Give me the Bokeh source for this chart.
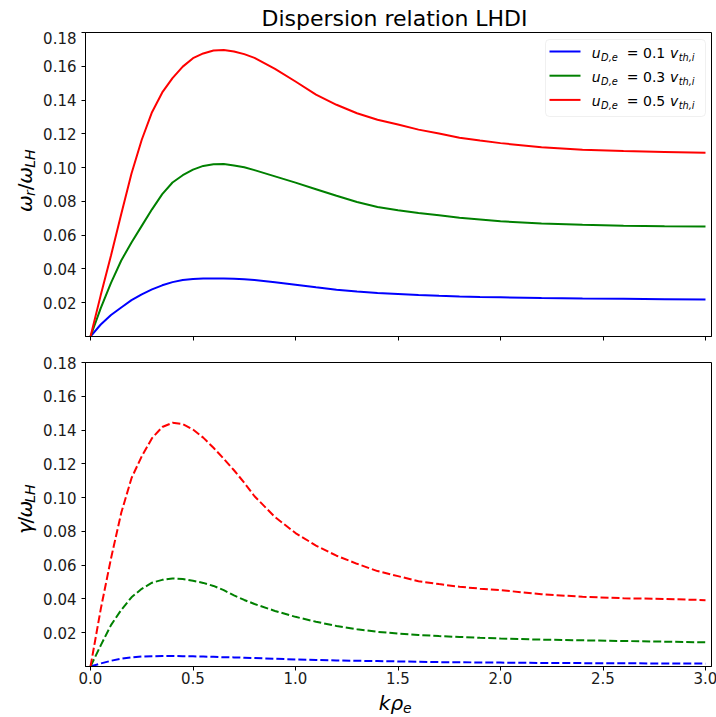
import numpy as np
from bokeh.plotting import figure
from bokeh.models import Label, FixedTicker, BoxAnnotation, Range1d
from bokeh.layouts import column, row
from bokeh.embed import file_html
from bokeh.resources import INLINE

# ---------------- data ----------------
k_rho = [0, 0.05, 0.1, 0.15, 0.2, 0.25, 0.3, 0.35, 0.4, 0.45, 0.5, 0.55, 0.6, 0.65,
         0.7, 0.75, 0.8, 0.9, 1.0, 1.1, 1.2, 1.3, 1.4, 1.5, 1.6, 1.7, 1.8, 1.9,
         2.0, 2.2, 2.4, 2.6, 2.8, 3.0]

omega_r_01 = [0, 0.0071, 0.0127, 0.0172, 0.0215, 0.0250, 0.0279, 0.0303, 0.0322, 0.0334,
              0.0340, 0.0343, 0.0344, 0.0344, 0.0342, 0.0339, 0.0334, 0.0321, 0.0307,
              0.0291, 0.0277, 0.0266, 0.0258, 0.0252, 0.0246, 0.0241, 0.0237, 0.0234,
              0.0232, 0.0228, 0.0225, 0.0223, 0.0221, 0.0219]
omega_r_03 = [0, 0.0168, 0.0318, 0.0450, 0.0557, 0.0655, 0.0753, 0.0843, 0.0912, 0.0955,
              0.0988, 0.1010, 0.1020, 0.1021, 0.1013, 0.1002, 0.0985, 0.0948, 0.0911,
              0.0872, 0.0833, 0.0796, 0.0767, 0.0748, 0.0731, 0.0718, 0.0703, 0.0693,
              0.0682, 0.0669, 0.0661, 0.0656, 0.0653, 0.0651]
omega_r_05 = [0, 0.0245, 0.0480, 0.0725, 0.0965, 0.1165, 0.1328, 0.1445, 0.1530, 0.1598,
              0.1648, 0.1676, 0.1693, 0.1697, 0.1688, 0.1672, 0.1650, 0.1585, 0.1510,
              0.1432, 0.1372, 0.1322, 0.1283, 0.1255, 0.1225, 0.1202, 0.1177, 0.1160,
              0.1145, 0.1120, 0.1106, 0.1098, 0.1093, 0.1088]

gamma_01 = [0, 0.0018, 0.0034, 0.0046, 0.0054, 0.0059, 0.0061, 0.0062, 0.0062, 0.0061,
            0.0060, 0.0059, 0.0057, 0.0055, 0.0054, 0.0052, 0.0050, 0.0046, 0.0042,
            0.0039, 0.0036, 0.0034, 0.0032, 0.0030, 0.0028, 0.0026, 0.0025, 0.0024,
            0.0023, 0.0021, 0.0020, 0.0019, 0.0018, 0.0017]
gamma_03 = [0, 0.0125, 0.0245, 0.0335, 0.0410, 0.0460, 0.0496, 0.0513, 0.0521, 0.0518,
            0.0508, 0.0495, 0.0477, 0.0452, 0.0421, 0.0394, 0.0370, 0.0329, 0.0294,
            0.0265, 0.0240, 0.0221, 0.0205, 0.0195, 0.0187, 0.0180, 0.0175, 0.0170,
            0.0166, 0.0159, 0.0155, 0.0151, 0.0147, 0.0143]
gamma_05 = [0, 0.0340, 0.0640, 0.0910, 0.1115, 0.1245, 0.1352, 0.1418, 0.1443, 0.1435,
            0.1403, 0.1355, 0.1295, 0.1230, 0.1162, 0.1088, 0.1008, 0.0885, 0.0790,
            0.0716, 0.0656, 0.0608, 0.0565, 0.0535, 0.0505, 0.0488, 0.0472, 0.0461,
            0.0452, 0.0428, 0.0413, 0.0404, 0.0400, 0.0393]

drift_labels = ["0.1", "0.3", "0.5"]
series_colors = ["#0000ff", "#008000", "#ff0000"]
omega_series = [omega_r_01, omega_r_03, omega_r_05]
gamma_series = [gamma_01, gamma_03, gamma_05]

y_ticks = [0.02, 0.04, 0.06, 0.08, 0.10, 0.12, 0.14, 0.16, 0.18]
y_tick_labels = ["0.02", "0.04", "0.06", "0.08", "0.10", "0.12", "0.14", "0.16", "0.18"]
x_ticks = [0.0, 0.5, 1.0, 1.5, 2.0, 2.5, 3.0]
x_tick_labels = ["0.0", "0.5", "1.0", "1.5", "2.0", "2.5", "3.0"]
title_text = "Dispersion relation LHDI"

# ---------------- layout constants (page pixels, origin top-left) ----------------
FONT = "DejaVu Sans"
PXU = 205.0                 # px per unit of k rho_e
X0 = -5.0 / PXU
FW, FH = 626, 304
X1 = X0 + FW / PXU
YMAX = 0.18
W = 716
BASE_FIX = 0.3              # Bokeh draws "alphabetic" labels ~0.3 em low

ADV = {'ω': 0.833, 'ρ': 0.635, 'γ': 0.592, 'k': 0.579, 'r': 0.411, 'e': 0.615,
       'L': 0.557, 'H': 0.752, '/': 0.337}


def adv(t, size):
    return sum(ADV.get(c, 0.6) for c in t) * size


def text_fig(width, top, bottom):
    """A blank figure whose frame is its whole canvas; data coords = page px."""
    f = figure(width=width, height=bottom - top, min_border=0,
               x_range=Range1d(0, width), y_range=Range1d(bottom, top),
               x_axis_type=None, y_axis_type=None, title_location=None,
               output_backend="svg", toolbar_location=None,
               background_fill_color="white", border_fill_color="white")
    f.outline_line_color = None
    return f


def make_fig(top_border, bottom_border):
    p = figure(frame_width=FW, frame_height=FH,
               x_range=Range1d(X0, X1), y_range=Range1d(0, YMAX),
               output_backend="svg", toolbar_location=None, title_location=None,
               min_border_left=41, min_border_right=W - 40 - 41 - FW,
               min_border_top=top_border, min_border_bottom=bottom_border,
               background_fill_color="white", border_fill_color="white")
    p.xgrid.visible = False
    p.ygrid.visible = False
    p.outline_line_color = "black"
    p.outline_line_width = 1
    p.outline_line_alpha = 1
    for ax in (p.xaxis[0], p.yaxis[0]):
        ax.axis_line_color = "black"
        ax.major_tick_line_color = "black"
        ax.minor_tick_line_color = None
        ax.major_tick_out = 4
        ax.major_tick_in = 0
        ax.major_label_text_font = FONT
        ax.major_label_text_font_size = "15px"
        ax.major_label_text_color = "#1a1a1a"
    p.yaxis.ticker = FixedTicker(ticks=y_ticks)
    p.yaxis.major_label_overrides = dict(zip(y_ticks, y_tick_labels))
    p.yaxis.major_label_standoff = 5
    p.xaxis.ticker = FixedTicker(ticks=x_ticks)
    p.xaxis.major_label_overrides = dict(zip(x_ticks, x_tick_labels))
    return p


def piece(f, px, py, text, size, italic, vertical=False, align="left"):
    if vertical:
        px -= BASE_FIX * size
    else:
        py -= BASE_FIX * size
    f.add_layout(Label(x=px, y=py, text=text, text_font=FONT,
                       text_font_size=f"{size}px",
                       text_font_style="italic" if italic else "normal",
                       text_color="black", text_align=align,
                       text_baseline="alphabetic",
                       angle=(np.pi / 2 if vertical else 0.0), angle_units="rad"))


def add_run(f, x0, y0, pieces, vertical=False):
    """pieces: (text, size, italic, shift_down_px); coords are page px."""
    s = 0.0
    for text, size, italic, shift in pieces:
        if vertical:
            piece(f, x0 + shift, y0 - s, text, size, italic, vertical=True)
        else:
            piece(f, x0 + s, y0 + shift, text, size, italic)
        s += adv(text, size)


# vertical extents (page px)
T_TOP, T_BOT = 0, 31          # title strip
R1_BOT = 346                  # top row: frame 32..336
R2_BOT = 690                  # bottom row: frame 362..666
X_BOT = 717                   # x-label strip

# ---------------- title strip ----------------
ft = text_fig(W, T_TOP, T_BOT)
piece(ft, 394, 25, title_text, 22, False, align="center")

# ---------------- top panel: omega_r ----------------
p1 = make_fig(1, 10)
p1.xaxis.major_label_overrides = {t: "" for t in x_ticks}
p1.xaxis.major_label_standoff = 0

for ys, c in zip(omega_series, series_colors):
    p1.line(k_rho, ys, line_color=c, line_width=2)


def m1(px, py):
    return (px - 86.0) / PXU, (336.0 - py) / FH * YMAX


# legend (drawn by hand so that the math-like labels stay real text)
lx0, ly0 = m1(541, 39)
lx1, ly1 = m1(701, 116)
p1.add_layout(BoxAnnotation(left=lx0, right=lx1, top=ly0, bottom=ly1,
                            fill_color="white", fill_alpha=0.8,
                            line_color="#cccccc", line_width=1, border_radius=4))
row_y = [51, 75.2, 99.4]
seg_x0, seg_x1, seg_y = [], [], []
for i, (lab, c) in enumerate(zip(drift_labels, series_colors)):
    ry = row_y[i]
    a, b = m1(545, ry)
    a2, _ = m1(576, ry)
    seg_x0.append(a)
    seg_x1.append(a2)
    seg_y.append(b)
    base = ry + 5.3
    for text, px, size, italic, shift in [("u", 587.3, 14, True, 0),
                                          ("D,e", 596.6, 9.8, True, 3.5),
                                          ("= " + lab, 622.3, 14, False, 0),
                                          ("v", 665.6, 14, True, 0),
                                          ("th,i", 674.2, 9.8, True, 3.5)]:
        x, y = m1(px, base + shift - BASE_FIX * size)
        p1.add_layout(Label(x=x, y=y, text=text, text_font=FONT,
                            text_font_size=f"{size}px",
                            text_font_style="italic" if italic else "normal",
                            text_color="black", text_baseline="alphabetic"))
p1.segment(x0=seg_x0, y0=seg_y, x1=seg_x1, y1=seg_y, line_color=series_colors,
           line_width=2, level="overlay")

fy1 = text_fig(40, T_BOT, R1_BOT)
add_run(fy1, 30, 217, [("ω", 20, True, 0), ("r", 14, True, 4), ("/", 20, False, 0),
                       ("ω", 20, True, 0), ("LH", 14, True, 4)], vertical=True)

# ---------------- bottom panel: gamma ----------------
p2 = make_fig(16, R2_BOT - R1_BOT - 16 - FH)
p2.xaxis.major_label_standoff = 1

for ys, c in zip(gamma_series, series_colors):
    p2.line(k_rho, ys, line_color=c, line_width=2, line_dash="8 3")

fy2 = text_fig(40, R1_BOT, R2_BOT)
add_run(fy2, 30, 540, [("γ", 20, True, 0), ("/", 20, False, 0),
                       ("ω", 20, True, 0), ("LH", 14, True, 4)], vertical=True)

# ---------------- x-label strip ----------------
fx = text_fig(W, R2_BOT, X_BOT)
add_run(fx, 378.3, 708.5, [("k", 20, True, 0), ("ρ", 20, True, 0), ("e", 14, True, 3.5)])

layout = column(ft, row(fy1, p1, spacing=0), row(fy2, p2, spacing=0), fx, spacing=0)
open("out.html", "w").write(file_html(layout, INLINE))
